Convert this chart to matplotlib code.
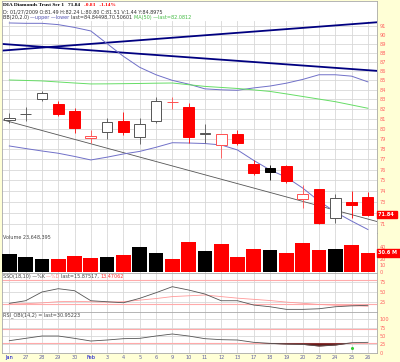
import numpy as np
import matplotlib.pyplot as plt
from matplotlib.ticker import NullLocator

W, H = 400, 362

# ---- data (DIA, daily, Jan 26 - Feb 26 2009) ----
day_labels = ['Jan', '27', '28', '29', '30', 'Feb', '3', '4', '5', '6', '9', '10',
              '11', '12', '13', '17', '18', '19', '20', '23', '24', '25', '26']
opens = [80.85, 81.49, 83.01, 82.52, 81.80, 79.05, 79.71, 80.78, 79.21, 80.78, 82.70, 82.25,
         79.50, 78.39, 79.48, 76.54, 76.13, 76.35, 73.23, 74.16, 71.51, 72.98, 73.48]
highs = [81.60, 82.24, 83.90, 82.80, 82.10, 79.88, 81.06, 81.73, 81.06, 83.28, 83.28, 82.66,
         80.52, 79.50, 79.88, 76.93, 76.45, 76.40, 74.56, 74.20, 73.75, 74.00, 73.93]
lows = [80.60, 80.80, 82.80, 81.30, 79.61, 78.55, 78.95, 79.38, 78.49, 80.55, 82.05, 78.55,
        78.55, 77.09, 78.39, 75.49, 74.98, 74.70, 72.41, 71.00, 71.06, 71.50, 71.70]
closes = [81.05, 81.51, 83.70, 81.49, 80.05, 79.28, 80.65, 79.66, 80.52, 82.84, 82.77, 79.21,
          79.54, 79.48, 78.55, 75.71, 75.75, 74.96, 73.69, 71.06, 73.32, 72.67, 71.84]
volume_m = [28.5, 23.2, 20.5, 20.5, 25.8, 22.6, 24.2, 26.9, 40.3, 29.7, 20.5, 48.4,
            33.4, 44.7, 23.2, 36.1, 35.5, 30.2, 46.3, 35.5, 37.1, 43.1, 30.6]
bb_upper = [91.34, 91.30, 91.30, 91.15, 90.83, 90.43, 89.00, 87.60, 86.40, 85.60, 85.00, 84.60,
            84.10, 84.00, 83.95, 84.20, 84.40, 84.70, 85.10, 85.60, 85.60, 85.45, 84.84]
bb_lower = [78.29, 78.04, 77.80, 77.58, 77.27, 76.93, 77.20, 77.51, 77.76, 78.16, 78.61, 78.58,
            78.53, 78.39, 77.90, 76.88, 75.97, 75.28, 74.27, 73.07, 72.07, 71.26, 70.51]
ma50 = [85.04, 84.99, 84.94, 84.83, 84.72, 84.62, 84.63, 84.65, 84.67, 84.70, 84.72, 84.54,
        84.36, 84.25, 84.14, 83.99, 83.83, 83.57, 83.30, 83.03, 82.76, 82.42, 82.08]
# hand-drawn trendlines: (day, price) at both ends
trend_up = ([-0.45, 22.56], [88.23, 91.42])
trend_down = ([-0.45, 22.56], [88.97, 86.02])
trend_gray = ([-0.37, 22.6], [80.88, 71.20])
sso_k = [20.9, 27.5, 49.6, 58.0, 52.9, 27.5, 24.9, 22.4, 33.6, 47.8, 63.1, 54.7,
         44.5, 27.5, 27.5, 16.5, 12.2, 5.6, 5.6, 7.1, 12.2, 14.5, 15.9]
sso_d = [19, 20, 22, 25, 26, 25, 24, 25, 29, 33, 38, 40,
         42, 38, 34, 31, 28, 24, 21, 18, 16, 15, 13.5]
rsi = [36, 43, 50, 50, 43, 35, 38, 42, 43, 50, 56, 50,
       42, 39, 38, 31, 28, 26, 25, 20, 23, 30, 31]
rsi_signal = (21, 15)

idx = np.arange(len(closes))
o, h, l, c = map(np.array, (opens, highs, lows, closes))
prev = np.r_[c[0], c[:-1]]
up = c >= prev
hollow = c >= o
colors = np.where(up, 'black', 'red')

fig = plt.figure(figsize=(W / 100, H / 100), dpi=100, facecolor='#FFFFD6')


def pos(x0, y0, x1, y1):
    return [x0 / W, 1 - y1 / H, (x1 - x0) / W, (y1 - y0) / H]


XL, XR = 2, 377
xlim = (-0.45, 22.56)
grid_c = '#d8d8d8'
spine_c = '#a8a8a8'
lab_c = '#ff6060'


def style(ax):
    ax.set_facecolor('white')
    ax.set_xlim(*xlim)
    ax.set_xticks(idx)
    ax.tick_params(axis='x', length=0, labelbottom=False)
    ax.tick_params(axis='y', length=0, labelsize=3.6, labelcolor=lab_c, pad=2,
                   left=False, right=True, labelleft=False, labelright=True)
    for s in ax.spines.values():
        s.set_color(spine_c)
        s.set_linewidth(0.6)
    ax.grid(color=grid_c, lw=0.6)
    ax.set_axisbelow(True)


# header
hdr = fig.add_axes(pos(XL, 1.5, XR, 20.7))
hdr.set_facecolor('white')
hdr.set_xticks([]); hdr.set_yticks([])
for s in hdr.spines.values():
    s.set_color(spine_c); s.set_linewidth(0.6)
hdr.spines['bottom'].set_visible(False)

# price panel
ax = fig.add_axes(pos(XL, 20.7, XR, 233))
style(ax)
ax.spines['top'].set_visible(False)
ax.set_yscale('log')
ax.set_ylim(70.2, 91.6)
pt = list(range(71, 92))
# the 72 label sits under the last-price box
ax.set_yticks(pt, labels=['' if v == 72 else str(v) for v in pt])
ax.yaxis.set_minor_locator(NullLocator())

ax.plot(*trend_up, color='#000080', lw=1.3, zorder=2)
ax.plot(*trend_down, color='#000080', lw=1.3, zorder=2)
ax.plot(*trend_gray, color='#555555', lw=0.6, zorder=2)
ax.plot(idx, bb_upper, color='#7070c8', lw=0.7, zorder=2)
ax.plot(idx, bb_lower, color='#7070c8', lw=0.7, zorder=2)
ax.plot(idx, ma50, color='#66dd66', lw=0.7, zorder=2)

edge = np.where(up, '#555555', '#ff5050')
edge = np.where(hollow, edge, colors)
ax.vlines(idx, l, h, colors=edge, lw=0.6, zorder=3)
body_lo = np.minimum(o, c)
body_h = np.abs(c - o)
face = np.where(hollow, 'white', colors)
ax.bar(idx, body_h, bottom=body_lo, width=0.66, color=face, edgecolor=edge,
       lw=0.7, zorder=4)

# volume panel
av = fig.add_axes(pos(XL, 233, XR, 272.5))
style(av)
av.spines['top'].set_visible(False)
av.bar(idx, volume_m, width=0.9, color=colors, zorder=3)
av.set_ylim(-1.3, 62.4)
vt = [0, 10, 20, 40]
av.set_yticks(vt, labels=[str(v) for v in vt])
av.grid(axis='y', visible=False)

# slow stochastic panel
a_s = fig.add_axes(pos(XL, 272.5, XR, 312))
style(a_s)
a_s.set_ylim(-1.1, 99.1)
st = [25, 50, 75]
a_s.set_yticks(st, labels=[str(v) for v in st])
a_s.axhline(80, color='#ffaaaa', lw=0.8, zorder=1)
a_s.axhline(20, color='#ffaaaa', lw=0.8, zorder=1)
a_s.plot(idx, sso_d, color='#ff9999', lw=0.6, zorder=3)
a_s.plot(idx, sso_k, color='#555555', lw=0.6, zorder=4)

# RSI panel
ar = fig.add_axes(pos(XL, 312, XR, 353))
style(ar)
ar.set_ylim(-0.9, 121.9)
rt = [0, 25, 50, 75, 100]
ar.set_yticks(rt, labels=[str(v) for v in rt])
ar.axhline(70, color='#ffaaaa', lw=0.8, zorder=1)
ar.axhline(30, color='#ffaaaa', lw=0.8, zorder=1)
rs = np.array(rsi, dtype=float)
ar.fill_between(idx, rs, 30, where=rs < 30, interpolate=True, color='#6b1a1a', lw=0, zorder=2)
ar.plot(idx, rs, color='#555555', lw=0.6, zorder=3)
ar.plot([rsi_signal[0]], [rsi_signal[1]], 'o', ms=1.2, color='#33cc33', zorder=4)
ar.tick_params(axis='x', labelbottom=True, labelsize=3.6, pad=1.5, labelcolor='#6060a0')
ar.set_xticklabels(day_labels)
for t, s in zip(ar.get_xticklabels(), day_labels):
    if s in ('Jan', 'Feb'):
        t.set_color('#0000cc')

# ---- texts ----
rend = fig.canvas.get_renderer()


def write(x, y, parts, size=3.5, **kw):
    for s, col in parts:
        t = fig.text(x / W, 1 - y / H, s, color=col, fontsize=size, va='center', ha='left', **kw)
        x += t.get_window_extent(rend).width


write(3, 5.2, [('DIA Diamonds Trust Ser 1   ', 'black'), ('71.84   ', 'black'),
               ('-0.83   -1.14%', 'red')], size=3.9, family='Liberation Serif', weight='bold')
write(3, 11.8, [('D: 01/27/2009 O:81.49 H:82.24 L:80.80 C:81.51 V:1.44 Y:84.8975', '#333333')])
write(3, 17.6, [('BB(20,2.0) ', '#333333'), ('\u2014upper \u2014lower ', '#5050b0'),
                ('last=84.84498,70.50601 ', '#333333'), ('MA(50) \u2014last=82.0812', '#44bb44')])
write(3, 237, [('Volume 23,648,395', '#444444')])
write(3, 276.5, [('SSO(18,10) \u2014%K ', '#444444'), ('\u2014%D ', '#ff8888'),
                 ('last=15.87517, ', '#444444'), ('13.47062', '#ff3030')])
write(3, 315.5, [('RSI_OBI(14,2) = last=30.95223', '#444444')])

fig.text(378 / W, 1 - 214.5 / H, '71.84 ', color='white', fontsize=3.6, weight='bold',
         va='center', ha='left',
         bbox=dict(boxstyle='square,pad=0.25', fc='red', ec='red'))
fig.text(378 / W, 1 - 253 / H, '30.6 M ', color='white', fontsize=3.6, weight='bold',
         va='center', ha='left',
         bbox=dict(boxstyle='square,pad=0.25', fc='red', ec='red'))

fig.savefig('out.png', dpi=100, facecolor=fig.get_facecolor())
